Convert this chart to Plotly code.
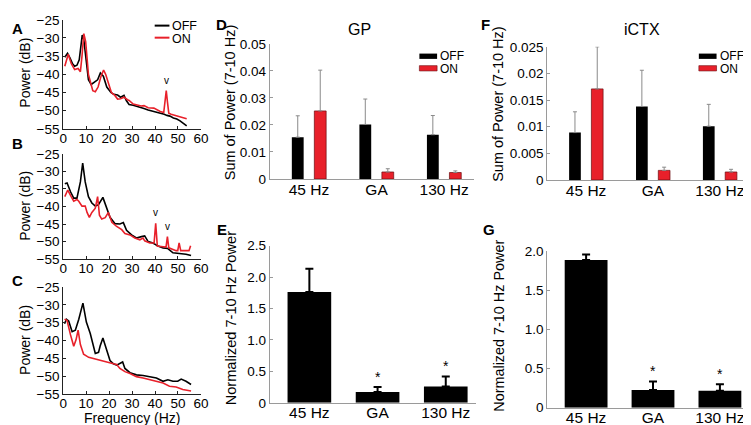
import plotly.graph_objects as go

W, H = 751, 425
FONT = "Liberation Sans, Arial, sans-serif"
BLACK = "#000000"
RED = "#e8202a"
GRAY = "#9a9a9a"

# ---------------- data ----------------
# Panel A
a_off_f = [0.7, 1.9, 3, 4, 5, 6, 7, 7.8, 8.3, 9, 10, 11, 12.2, 13.5, 15, 16.2, 17.5, 19, 20.8, 22, 23.7, 25, 26.5, 27.5,
           28.7, 30.5, 32.3, 34, 35.2, 37, 39.5, 41, 42.3, 44, 45.2, 46.5, 48, 49.5, 50.9, 52.5, 53.8]
a_off_db = [-35.3, -34.2, -35.5, -37, -37.8, -37.5, -36, -32, -29.2, -30.5, -36, -41.5, -42.8, -42.3, -41.5, -39.6, -40.5,
            -43.5, -45, -45.5, -45.7, -46.3, -45.8, -47.2, -48.3, -48.5, -48.8, -49.2, -49.4, -49.8, -50.2, -50.4, -50.7,
            -51, -51.3, -51.5, -52, -52.3, -52.8, -53.5, -54.2]
a_on_f = [0.7, 2.2, 3.5, 5, 6.5, 7.5, 8.2, 9, 9.8, 11, 12.9, 14, 15.2, 16.5, 17.6, 18.5, 20, 21, 22.5, 23.7, 25, 26.5, 28,
          28.7, 30.5, 32.3, 34, 35.2, 37, 39.5, 41, 42.3, 43.8, 44.4, 44.9, 45.4, 46, 47, 48, 49.5, 50.9, 52.5, 53.8]
a_on_db = [-37.8, -34.5, -37, -38.7, -38.4, -39.3, -35, -28.8, -31, -40, -44.5, -44.8, -43.5, -40.5, -38.8, -40, -43, -45,
           -45.8, -46.8, -46.7, -46.3, -47, -47.2, -48.2, -48.4, -48.7, -48.6, -49.2, -49.3, -49.8, -50.2, -50.5, -47,
           -44.5, -47.5, -50.7, -51, -51.2, -51.5, -51.7, -52, -52.2]

# Panel B
b_off_f = [0.7, 1.7, 3.2, 4.6, 6, 7.5, 8.5, 9.6, 11, 12.5, 14, 15.4, 17.3, 19, 20.4, 22.6, 24.7, 26.2, 27.6, 29.8, 31.9,
           34.1, 35.5, 37, 39.1, 41.3, 43.5, 45.6, 47.8, 50.6, 53.5, 55.7]
b_off_db = [-33.5, -33.3, -35.8, -37.6, -37.6, -33, -27.6, -33, -37.2, -39, -39.9, -39.5, -37.4, -40.8, -43.1, -44.9, -45,
            -44.6, -46.8, -48.1, -49, -48.6, -48.4, -50, -50.4, -51.3, -51.8, -52, -53.2, -53.4, -53.6, -54]
b_on_f = [0.7, 2, 3.5, 4.6, 6, 6.8, 8.2, 9.6, 10.4, 11.4, 12.5, 14, 15, 15.8, 16.8, 18.3, 19.7, 21.2, 23.3, 25.5, 26.9,
          29.1, 31.2, 33.4, 34.8, 35.5, 37.7, 39.6, 40.3, 41, 43.5, 44.8, 45.4, 46, 49.2, 49.9, 50.5, 51.2, 53, 54.8, 55.5]
b_on_db = [-37.2, -35.3, -37.2, -38.5, -38, -38.5, -39.9, -39.9, -41.7, -43.1, -41.7, -40.5, -37.2, -42.5, -43.6, -43.2,
           -41.7, -44.5, -45.7, -46.6, -47.7, -48.1, -49, -49.5, -49, -49.8, -50.4, -50.4, -44.8, -51.3, -51.5, -51.6,
           -48.6, -51.8, -52.6, -52.6, -50.4, -52.6, -52.6, -52.6, -51.2]

# Panel C
c_off_f = [0.6, 1.4, 2.4, 3.9, 5.3, 6.8, 8.6, 10.1, 11.8, 14, 15.4, 16.1, 17.3, 19, 20.4, 21.9, 23.3, 25.9, 26.9, 29.1,
           31.9, 34.8, 37.7, 40.6, 43.5, 45.6, 47.8, 49.9, 51.4, 53.5, 55.7]
c_off_db = [-35.3, -34, -34.5, -37.5, -37.1, -34, -29.5, -34.8, -38, -43.6, -43.3, -41.5, -39.3, -42.9, -45.6, -46.5,
            -46.9, -46, -47.8, -49, -49.6, -49.8, -50.1, -50.5, -51.4, -51, -51.4, -51.4, -50.8, -51.4, -52.3]
c_on_f = [0.6, 1.7, 3.2, 4.6, 5.6, 6.5, 7.5, 8.9, 11.1, 13.2, 16.1, 19, 21.9, 23.3, 24.7, 26.9, 29.1, 31.9, 34.8, 37.7,
          40.6, 43.5, 46.3, 49.2, 52.1, 55.7]
c_on_db = [-34, -34.4, -38.4, -41.6, -39.8, -37.1, -41.1, -43.8, -44.7, -45.1, -45.5, -46, -46.5, -46.7, -47.8, -48.7,
           -49.2, -50.1, -50.5, -51, -51.4, -51.9, -52.8, -53, -53.7, -54.1]

psd_yticks = [-55, -50, -45, -40, -35, -30, -25]
psd_xticks = [0, 10, 20, 30, 40, 50, 60]

categories = ["45 Hz", "GA", "130 Hz"]

# Panel D (GP)
gp_off = [0.0155, 0.0202, 0.0164]
gp_off_err = [0.0079, 0.0094, 0.0071]
gp_on = [0.0252, 0.0026, 0.0024]
gp_on_err = [0.0151, 0.0012, 0.0006]
gp_ticks = [0, 0.01, 0.02, 0.03, 0.04, 0.05]
gp_ticktext = ["0", "0.01", "0.02", "0.03", "0.04", "0.05"]

# Panel E (GP normalized)
gp_norm = [1.76, 0.17, 0.26]
gp_norm_err = [0.37, 0.08, 0.16]
gp_sig = ["", "*", "*"]
e_ticks = [0, 0.5, 1.0, 1.5, 2.0, 2.5]
e_ticktext = ["0", "0.5", "1.0", "1.5", "2.0", "2.5"]

# Panel F (iCTX)
ctx_off = [0.0089, 0.0138, 0.0101]
ctx_off_err = [0.0039, 0.0068, 0.0041]
ctx_on = [0.0171, 0.0018, 0.0015]
ctx_on_err = [0.0079, 0.0006, 0.0005]
f_ticks = [0, 0.005, 0.01, 0.015, 0.02, 0.025]
f_ticktext = ["0", "0.005", "0.01", "0.015", "0.02", "0.025"]

# Panel G (iCTX normalized)
ctx_norm = [1.89, 0.225, 0.215]
ctx_norm_err = [0.07, 0.11, 0.085]
ctx_sig = ["", "*", "*"]
g_ticks = [0, 0.5, 1.0, 1.5, 2.0]
g_ticktext = ["0", "0.5", "1.0", "1.5", "2.0"]


# ---------------- helpers ----------------
def xd(a, b):
    return [a / W, b / W]


def yd(top, bottom):
    return [1 - bottom / H, 1 - top / H]


fig = go.Figure()

# Panel pixel boxes (left, right, top, bottom)
boxes = {
    1: (52, 192, 5, 118),     # A
    2: (52, 192, 144, 253),   # B
    3: (52, 192, 282, 393),   # C
    4: (262, 470, 30, 170),   # D
    5: (262, 472, 239, 402),  # E
    6: (544, 750, 33, 171),   # F
    7: (544, 750, 245, 407),  # G
}

layout = dict(
    width=W, height=H, margin=dict(l=0, r=0, t=0, b=0),
    paper_bgcolor="white", plot_bgcolor="white",
    font=dict(family=FONT, color="black", size=13),
    showlegend=False, barmode="overlay",
)

for i, (l, r, t, b) in boxes.items():
    sx = "" if i == 1 else str(i)
    layout["xaxis" + sx] = dict(domain=xd(l, r), anchor="y" + sx)
    layout["yaxis" + sx] = dict(domain=yd(t, b), anchor="x" + sx)

# PSD panels
psd = [
    (1, a_off_f, a_off_db, a_on_f, a_on_db),
    (2, b_off_f, b_off_db, b_on_f, b_on_db),
    (3, c_off_f, c_off_db, c_on_f, c_on_db),
]
for i, fo, do, fn, dn in psd:
    sx = "" if i == 1 else str(i)
    fig.add_trace(go.Scatter(x=fo, y=do, mode="lines", line=dict(color=BLACK, width=1.6),
                             xaxis="x" + sx, yaxis="y" + sx))
    fig.add_trace(go.Scatter(x=fn, y=dn, mode="lines", line=dict(color=RED, width=1.6),
                             xaxis="x" + sx, yaxis="y" + sx))
    layout["xaxis" + sx].update(range=[0, 60], tickvals=psd_xticks, showline=True, linecolor="#222",
                                linewidth=1, ticks="inside", ticklen=3, tickcolor="#222", showgrid=False,
                                zeroline=False, tickfont=dict(size=13.5), ticklabelstandoff=-3)
    layout["yaxis" + sx].update(range=[-55, -25], tickvals=psd_yticks, showline=True, linecolor="#222",
                                linewidth=1, ticks="inside", ticklen=3, tickcolor="#222", showgrid=False,
                                zeroline=False, tickfont=dict(size=13.5))

# Grouped bar panels (D, F)
pair_w = 0.175
pair_sep = 0.333
for i, off, offe, on, one, tv, tt in [
    (4, gp_off, gp_off_err, gp_on, gp_on_err, gp_ticks, gp_ticktext),
    (6, ctx_off, ctx_off_err, ctx_on, ctx_on_err, f_ticks, f_ticktext),
]:
    sx = str(i)
    fig.add_trace(go.Bar(x=categories, y=off, width=pair_w, offset=-pair_sep / 2 - pair_w / 2,
                         marker=dict(color=BLACK, line=dict(width=0)),
                         error_y=dict(type="data", symmetric=False, array=offe, arrayminus=[0] * 3,
                                      color="#8a8a8a", thickness=1, width=2),
                         xaxis="x" + sx, yaxis="y" + sx))
    fig.add_trace(go.Bar(x=categories, y=on, width=pair_w, offset=pair_sep / 2 - pair_w / 2,
                         marker=dict(color=RED, line=dict(width=0.7, color="#6a0c10")),
                         error_y=dict(type="data", symmetric=False, array=one, arrayminus=[0] * 3,
                                      color="#8a8a8a", thickness=1, width=2),
                         xaxis="x" + sx, yaxis="y" + sx))
    layout["xaxis" + sx].update(type="category", range=[-0.58, 2.45], showline=True, linecolor=GRAY,
                                linewidth=1, ticks="", showgrid=False, zeroline=False, tickfont=dict(size=15.5),
                                ticklabelstandoff=-4)
    layout["yaxis" + sx].update(range=[0, tv[-1]], tickvals=tv, ticktext=tt, showline=True, linecolor=GRAY,
                                linewidth=1, ticks="inside", ticklen=3, tickcolor=GRAY, showgrid=False,
                                zeroline=False, tickfont=dict(size=13.5))

# Single bar panels (E, G)
single_w = 0.64
annotations = []
for i, vals, errs, sig, tv, tt in [
    (5, gp_norm, gp_norm_err, gp_sig, e_ticks, e_ticktext),
    (7, ctx_norm, ctx_norm_err, ctx_sig, g_ticks, g_ticktext),
]:
    sx = str(i)
    fig.add_trace(go.Bar(x=categories, y=vals, width=single_w, offset=-single_w / 2,
                         marker=dict(color=BLACK, line=dict(width=0)),
                         error_y=dict(type="data", symmetric=False, array=errs, arrayminus=[0] * 3,
                                      color=BLACK, thickness=2, width=4),
                         xaxis="x" + sx, yaxis="y" + sx))
    layout["xaxis" + sx].update(type="category", range=[-0.58, 2.45], showline=True, linecolor=GRAY,
                                linewidth=1, ticks="", showgrid=False, zeroline=False, tickfont=dict(size=15.5),
                                ticklabelstandoff=-4)
    layout["yaxis" + sx].update(range=[0, tv[-1]], tickvals=tv, ticktext=tt, showline=True, linecolor=GRAY,
                                linewidth=1, ticks="inside", ticklen=3, tickcolor=GRAY, showgrid=False,
                                zeroline=False, tickfont=dict(size=13.5))
    for c, v, e, s in zip(categories, vals, errs, sig):
        if s:
            annotations.append(dict(x=c, y=v + e, xref="x" + sx, yref="y" + sx, text=s, showarrow=False,
                                    yanchor="bottom", yshift=0, font=dict(size=14)))

# Carets marking stimulation peaks
for xr, yr, xv, yv in [("x", "y", 44.9, -44.5), ("x2", "y2", 40.3, -44.8), ("x2", "y2", 45.4, -48.6)]:
    annotations.append(dict(x=xv, y=yv, xref=xr, yref=yr, text="v", showarrow=False, yanchor="bottom",
                            yshift=3, font=dict(size=10)))


def pann(x, y, text, size=14, bold=False, angle=0, xanchor="center"):
    annotations.append(dict(x=x / W, y=1 - y / H, xref="paper", yref="paper", text=("<b>%s</b>" % text) if bold else text,
                            showarrow=False, textangle=angle, xanchor=xanchor, yanchor="middle",
                            font=dict(size=size, family=FONT)))


# Panel letters
for lx, ly, letter in [(6, 14, "A"), (6, 133, "B"), (6, 275, "C"), (213, 10, "D"), (213, 222, "E"),
                       (481, 10, "F"), (485, 222, "G")]:
    pann(lx, ly, letter, size=15, bold=True)

# Axis titles
for yc in [60, 198, 337]:
    pann(13, yc, "Power (dB)", size=14, angle=-90)
pann(122, 418, "Frequency (Hz)", size=14)
pann(221, 90, "Sum of Power (7-10 Hz)", size=14.5, angle=-90)
pann(222, 314, "Normalized 7-10 Hz Power", size=14.6, angle=-90)
pann(494, 92, "Sum of Power (7-10 Hz)", size=14.5, angle=-90)
pann(495, 322, "Normalized 7-10 Hz Power", size=14.4, angle=-90)

# Panel titles
pann(353, 15, "GP", size=16)
pann(640, 15, "iCTX", size=16)

shapes = []
# Legend in A
shapes.append(dict(type="line", xref="paper", yref="paper", x0=145 / W, x1=160 / W, y0=1 - 11 / H, y1=1 - 11 / H,
                   line=dict(color=BLACK, width=2)))
shapes.append(dict(type="line", xref="paper", yref="paper", x0=145 / W, x1=160 / W, y0=1 - 23.5 / H,
                   y1=1 - 23.5 / H, line=dict(color=RED, width=2)))
pann(161, 11, "OFF", size=12.5, xanchor="left")
pann(161, 24.5, "ON", size=12.5, xanchor="left")

# Legends in D and F
for lx in [414, 698]:
    shapes.append(dict(type="rect", xref="paper", yref="paper", x0=lx / W, x1=(lx + 18) / W, y0=1 - 45.5 / H,
                       y1=1 - 40 / H, fillcolor=BLACK, line=dict(width=0)))
    shapes.append(dict(type="rect", xref="paper", yref="paper", x0=lx / W, x1=(lx + 18) / W, y0=1 - 58 / H,
                       y1=1 - 52.5 / H, fillcolor=RED, line=dict(width=0.6, color="#6a0c10")))
    pann(lx + 19, 43, "OFF", size=12, xanchor="left")
    pann(lx + 19, 55.5, "ON", size=12, xanchor="left")

layout["annotations"] = annotations
layout["shapes"] = shapes
fig.update_layout(**layout)
fig.write_html("out.html")
